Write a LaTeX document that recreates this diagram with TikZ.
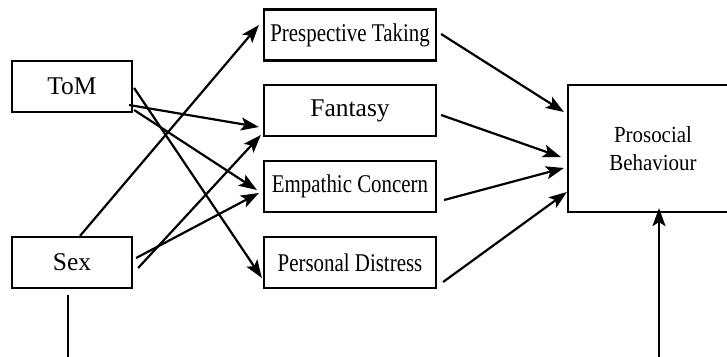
\documentclass[tikz,border=0pt]{standalone}
\usepackage{fontspec}
\setmainfont{Liberation Serif}
\usetikzlibrary{arrows.meta,calc}
\begin{document}
\begin{tikzpicture}[x=1pt,y=-1pt,
  box/.style={draw,line width=2.2pt,minimum height=51pt,inner sep=0pt,font=\fontsize{25.5}{28}\selectfont},
  smallbox/.style={box,minimum width=120pt},
  midbox/.style={box,minimum width=172pt},
  conn/.style={line width=2.2pt,-{Stealth[length=18pt,width=13pt,inset=4pt]}},
  plain/.style={line width=2.2pt}]
\useasboundingbox (0,0) rectangle (727,356);
\node[smallbox] (tom) at (72,86.5) {ToM};
\node[smallbox] (sex) at (72,262.5) {Sex};
\node[midbox] (pt) at (350,35) {\scalebox{0.82}[1]{Prespective Taking}};
\node[midbox] (fan) at (350,110.5) {Fantasy};
\node[midbox] (emp) at (350,186.5) {\scalebox{0.82}[1]{Empathic Concern}};
\node[midbox] (pd) at (350,262.5) {\scalebox{0.82}[1]{Personal Distress}};
\node[draw,line width=2.2pt,minimum width=170pt,minimum height=127pt,inner sep=0pt,align=center,
  font=\fontsize{23}{28}\selectfont] (pro) at (653,148.5)
  {\scalebox{0.91}[1]{Prosocial}\\\scalebox{0.91}[1]{Behaviour}};
\coordinate (bl1) at (68,295);
\coordinate (bl2) at (68,357);
\coordinate (br) at (659,357);
% left arrows
\draw[conn] ($(sex.north)+(8,0)$) -- ($(pt.west)+(-4,-10)$);
\draw[conn] ($(tom.east)+(-4,18.5)$) -- ($(fan.west)+(-4,16.5)$);
\draw[conn] ($(tom.east)+(1,1.5)$) -- ($(pd.west)+(-1,15.5)$);
\draw[conn] ($(tom.east)+(1,23.5)$) -- ($(emp.west)+(-6,3.5)$);
\draw[conn] ($(sex.east)+(3,-4.5)$) -- ($(emp.west)+(-4,6.5)$);
\draw[conn] ($(sex.east)+(5,5.5)$) -- ($(fan.west)+(-2,24.5)$);
% right arrows
\draw[conn] ($(pt.east)+(4,-1)$) -- ($(pro.west)+(-3,-36.5)$);
\draw[conn] ($(fan.east)+(4,4.5)$) -- ($(pro.west)+(-6,8.5)$);
\draw[conn] ($(emp.east)+(7,13.5)$) -- ($(pro.west)+(-3,19.5)$);
\draw[conn] ($(pd.east)+(6,19.5)$) -- ($(pro.west)+(0,43.5)$);
% bottom lines
\draw[conn] (br) -- ($(pro.south)+(6,-5)$);
\draw[plain] (bl1) -- (bl2);
\end{tikzpicture}
\end{document}
